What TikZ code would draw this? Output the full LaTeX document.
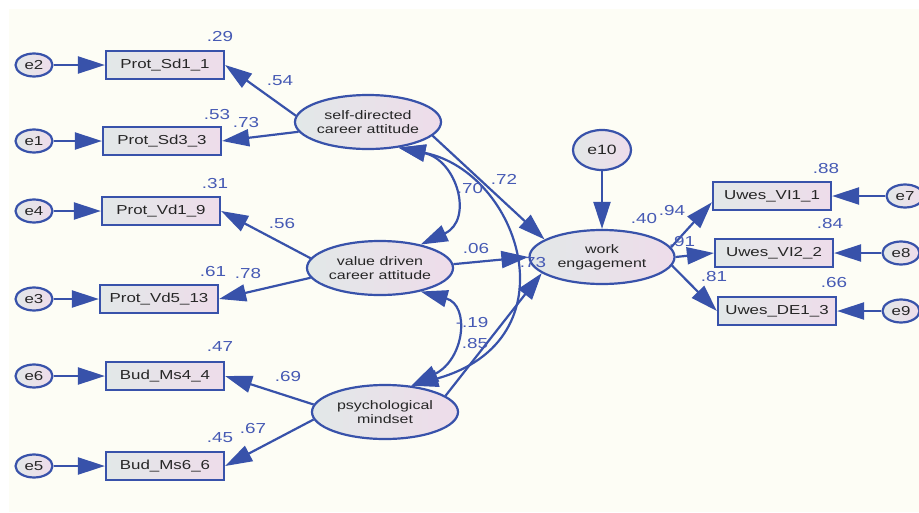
\documentclass[tikz,border=0pt]{standalone}
\usepackage{fontspec}
\setmainfont{Liberation Sans}[FakeStretch=1.3]
\usetikzlibrary{shapes.geometric,arrows.meta}
\definecolor{amosblue}{RGB}{56,82,170}
\definecolor{numblue}{RGB}{70,90,180}
\definecolor{paper}{RGB}{253,253,245}
\definecolor{fillgray}{RGB}{226,232,232}
\definecolor{fillpink}{RGB}{238,220,234}
\begin{document}
\begin{tikzpicture}[x=1pt,y=-1pt,
    obs/.style={draw=amosblue,line width=2.2pt,left color=fillgray,right color=fillpink,minimum width=118pt,minimum height=28pt,inner sep=0pt,text=black!85,font=\fontsize{13}{15}\selectfont},
    lat/.style={ellipse,draw=amosblue,line width=2.2pt,left color=fillgray,right color=fillpink,minimum width=146pt,minimum height=54pt,inner sep=0pt,align=center,text=black!85,font=\fontsize{12.3}{14}\selectfont},
    err/.style={ellipse,draw=amosblue,line width=2.2pt,left color=fillgray,right color=fillpink,minimum width=37pt,minimum height=23pt,inner sep=0pt,text=black!85,font=\fontsize{13}{15}\selectfont},
    reg/.style={draw=amosblue,line width=2.2pt,-{Triangle[length=27pt,width=17pt]}},
    cov/.style={draw=amosblue,line width=2.2pt,{Triangle[length=27pt,width=17pt]}-{Triangle[length=27pt,width=17pt]}},
    est/.style={text=numblue,font=\fontsize{14.5}{16}\selectfont,inner sep=0pt}]
  \useasboundingbox (0,0) rectangle (919,512);
  \fill[paper] (9,9) rectangle (919,512); % sheet

  % indicators, left side
  \node[err] (e2) at (34,65) {e2};   \node[obs] (sd1) at (165,65)  {Prot\_Sd1\_1};
  \node[err] (e1) at (34,141) {e1};  \node[obs] (sd3) at (162,141) {Prot\_Sd3\_3};
  \node[err] (e4) at (34,211) {e4};  \node[obs] (vd1) at (161,211) {Prot\_Vd1\_9};
  \node[err] (e3) at (34,299) {e3};  \node[obs] (vd5) at (159,299) {Prot\_Vd5\_13};
  \node[err] (e6) at (34,376) {e6};  \node[obs] (ms4) at (165,376) {Bud\_Ms4\_4};
  \node[err] (e5) at (34,466) {e5};  \node[obs] (ms6) at (165,466) {Bud\_Ms6\_6};

  % latent variables
  \node[lat] (sd) at (368,122) {self-directed\\career attitude};
  \node[lat] (vd) at (380,268) {value driven\\career attitude};
  \node[lat] (pm) at (385,412) {psychological\\mindset};
  \node[lat,minimum width=145pt] (we) at (602,257) {work\\engagement};
  \node[err,minimum width=58pt,minimum height=40pt,font=\fontsize{13.5}{15}\selectfont] (e10) at (602,150) {e10};

  % indicators, right side
  \node[obs] (vi1) at (772,196) {Uwes\_VI1\_1};  \node[err] (e7) at (905,196) {e7};
  \node[obs] (vi2) at (774,253) {Uwes\_VI2\_2};  \node[err] (e8) at (901,253) {e8};
  \node[obs] (de1) at (777,311) {Uwes\_DE1\_3};  \node[err] (e9) at (901,311) {e9};

  % error terms
  \foreach \e/\b in {e2/sd1,e1/sd3,e4/vd1,e3/vd5,e6/ms4,e5/ms6}
    \draw[reg] (\e.east) -- (\b.west);
  \foreach \e/\b in {e7/vi1,e8/vi2,e9/de1}
    \draw[reg] (\e.west) -- (\b.east);
  \draw[reg] (e10.south) -- (we.north);

  % loadings
  \draw[reg] (sd.175) -- (sd1.east);
  \draw[reg] (sd.188) -- (sd3.east);
  \draw[reg] (vd.172) -- (vd1.east);
  \draw[reg] (vd.188) -- (vd5.east);
  \draw[reg] (pm.174) -- (ms4.east);
  \draw[reg] (pm.186) -- (ms6.east);
  \draw[reg] (we.8) -- (vi1.186);
  \draw[reg] (we.east) -- (vi2.west);
  \draw[reg] (we.-7) -- (de1.west);

  % structural paths
  \draw[reg] (sd.-12) -- (we.163);
  \draw[reg] (vd.3) -- (we.west);
  \draw[reg] (pm.15) -- (we.195);

  % covariances
  \draw[cov] (sd.-40) .. controls (457,160) and (474,220) .. (vd.30);
  \draw[cov] (vd.-30) .. controls (470,305) and (465,359) .. (pm.45);
  \draw[cov] (sd.-40) .. controls (520,172) and (575,340) .. (pm.45);

  % estimates
  \node[est] at (220,37) {.29};   \node[est] at (280,81) {.54};
  \node[est] at (217,115) {.53};  \node[est] at (246,123) {.73};
  \node[est] at (215,184) {.31};  \node[est] at (282,224) {.56};
  \node[est] at (213,272) {.61};  \node[est] at (248,274) {.78};
  \node[est] at (220,347) {.47};  \node[est] at (288,377) {.69};
  \node[est] at (220,438) {.45};  \node[est] at (253,429) {.67};
  \node[est] at (470,189) {.70};  \node[est] at (504,179) {.72};
  \node[est] at (476,249) {.06};  \node[est] at (533,263) {.73};
  \node[est] at (472,323) {-.19}; \node[est] at (475,344) {.85};
  \node[est] at (644,219) {.40};  \node[est] at (672,211) {.94};
  \node[est] at (682,242) {.91};  \node[est] at (714,277) {.81};
  \node[est] at (826,169) {.88};  \node[est] at (830,224) {.84};
  \node[est] at (834,283) {.66};
\end{tikzpicture}
\end{document}
